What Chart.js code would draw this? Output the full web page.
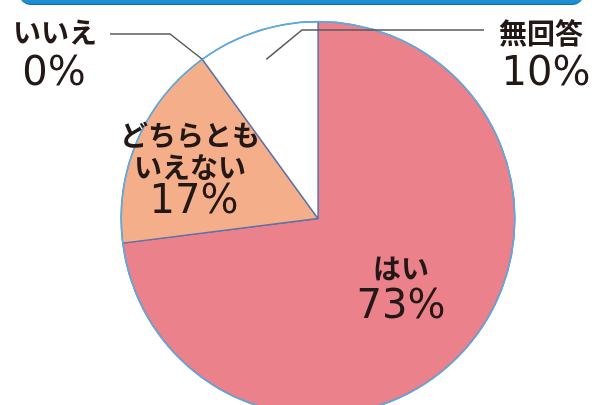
<!DOCTYPE html>
<html>
<head>
<meta charset="utf-8">
<script src="https://cdn.jsdelivr.net/npm/chart.js@4/dist/chart.umd.min.js"></script>
<style>
  html, body { margin: 0; padding: 0; background: #fff; overflow: hidden; width: 592px; height: 405px; }
  #wrap { position: relative; width: 592px; height: 416px; }
  #bar { position: absolute; left: 19px; top: -22px; width: 565px; height: 26px; border-radius: 12px;
         background: linear-gradient(#4fb0e6, #1a8ad0); border-bottom: 1px solid #0b6fb0; }
  canvas { position: absolute; left: 0; top: 0; }
</style>
</head>
<body>
<div id="wrap">
  <div id="bar"></div>
  <canvas id="c" width="592" height="416"></canvas>
</div>
<script>
const categories = ['はい', 'どちらともいえない', 'いいえ', '無回答'];
const values = [73, 17, 0, 10];
const labelLines = [['はい'], ['どちらとも', 'いえない'], ['いいえ'], ['無回答']];

const JP = '"Noto Sans CJK JP", "Noto Sans", sans-serif';
const NUM = '"DejaVu Sans", sans-serif';

const labelPlugin = {
  id: 'pieLabels',
  afterDatasetsDraw(chart) {
    const ctx = chart.ctx;
    const arcs = chart.getDatasetMeta(0).data;
    const cx = arcs[0].x, cy = arcs[0].y, R = arcs[0].outerRadius;
    ctx.save();
    // outer circle outline
    ctx.beginPath();
    ctx.arc(cx, cy, R, 0, Math.PI * 2);
    ctx.strokeStyle = '#5fabdf';
    ctx.lineWidth = 1.6;
    ctx.stroke();

    // leader lines
    ctx.strokeStyle = '#5a5a5a';
    ctx.lineWidth = 1.5;
    const a2 = arcs[2].startAngle;
    ctx.beginPath();
    ctx.moveTo(110, 34);
    ctx.lineTo(170, 34);
    ctx.lineTo(cx + R * Math.cos(a2), cy + R * Math.sin(a2));
    ctx.stroke();
    const a3 = (arcs[3].startAngle + arcs[3].endAngle) / 2;
    ctx.beginPath();
    ctx.moveTo(484, 30);
    ctx.lineTo(302, 30);
    ctx.lineTo(cx + 0.85 * R * Math.cos(a3), cy + 0.85 * R * Math.sin(a3));
    ctx.stroke();

    // text
    ctx.fillStyle = '#231815';
    ctx.textAlign = 'center';
    const pos = [
      { x: 401, lines: [268], num: [401, 318] },
      { x: 190, lines: [135, 167], num: [194, 213] },
      { x: 55, lines: [32], num: [54, 85] },
      { x: 541, lines: [33], num: [546, 85] }
    ];
    labelLines.forEach((lines, i) => {
      const p = pos[i];
      ctx.font = 'bold 28px ' + JP;
      ctx.textBaseline = 'middle';
      lines.forEach((t, j) => ctx.fillText(t, p.x, p.lines[j]));
      ctx.font = '40px ' + NUM;
      ctx.textBaseline = 'alphabetic';
      ctx.fillText(values[i] + '%', p.num[0], p.num[1]);
    });
    ctx.restore();
  }
};

new Chart(document.getElementById('c'), {
  type: 'pie',
  data: {
    labels: categories,
    datasets: [{
      data: values,
      backgroundColor: ['#ea818b', '#f4ae8a', '#f4ae8a', '#ffffff'],
      borderColor: '#5d72a8',
      borderWidth: 1.3
    }]
  },
  options: {
    responsive: false,
    animation: false,
    layout: { padding: { top: 21, left: 44, right: 0, bottom: 0 } },
    plugins: { legend: { display: false }, tooltip: { enabled: false } }
  },
  plugins: [labelPlugin]
});
</script>
</body>
</html>
